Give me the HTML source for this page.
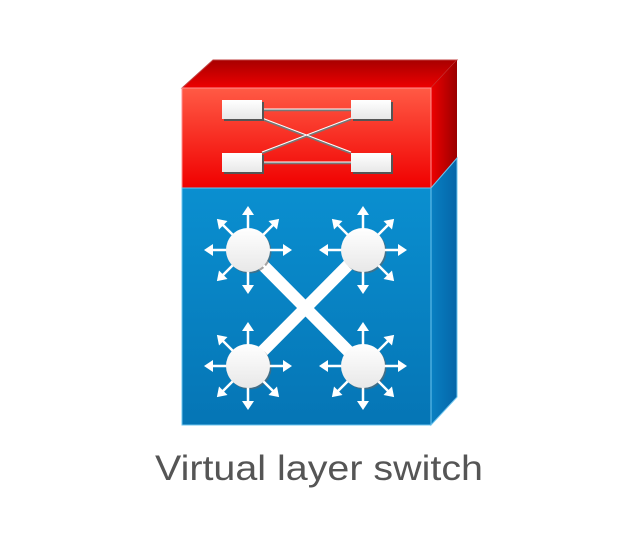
<!DOCTYPE html>
<html><head><style>body{margin:0;background:#fff;width:640px;height:551px;overflow:hidden}</style></head>
<body>
<svg width="640" height="551" viewBox="0 0 640 551" xmlns="http://www.w3.org/2000/svg">
<defs>
<linearGradient id="rf" x1="0" y1="0" x2="0" y2="1"><stop offset="0" stop-color="#ff5a45"/><stop offset="1" stop-color="#f00000"/></linearGradient>
<linearGradient id="rt" x1="0" y1="0" x2="0" y2="1"><stop offset="0" stop-color="#a80000"/><stop offset="1" stop-color="#ee0000"/></linearGradient>
<linearGradient id="rs" x1="0" y1="0" x2="1" y2="0"><stop offset="0" stop-color="#ee0000"/><stop offset="1" stop-color="#9a0000"/></linearGradient>
<linearGradient id="bf" x1="0" y1="0" x2="0" y2="1"><stop offset="0" stop-color="#0a8fd0"/><stop offset="1" stop-color="#0575b5"/></linearGradient>
<linearGradient id="bs" x1="0" y1="0" x2="1" y2="0"><stop offset="0" stop-color="#0880c2"/><stop offset="1" stop-color="#0565a8"/></linearGradient>
<linearGradient id="wb" x1="0" y1="0" x2="0" y2="1"><stop offset="0" stop-color="#fff"/><stop offset="1" stop-color="#e8e8e8"/></linearGradient>
<g id="hub">
<circle r="22" fill="#666" opacity="0.6" transform="translate(1.5,1.5)"/>
<g fill="#fff" stroke="#fff" stroke-width="2.5">
<line x1="0" y1="0" x2="0" y2="-37"/><line x1="0" y1="0" x2="0" y2="37"/><line x1="0" y1="0" x2="-37" y2="0"/><line x1="0" y1="0" x2="37" y2="0"/>
<line x1="0" y1="0" x2="-27" y2="-27"/><line x1="0" y1="0" x2="27" y2="27"/><line x1="0" y1="0" x2="-27" y2="27"/><line x1="0" y1="0" x2="27" y2="-27"/>
</g>
<g fill="#fff">
<polygon points="0,-44 -6,-35 6,-35"/><polygon points="0,44 -6,35 6,35"/><polygon points="-44,0 -35,-6 -35,6"/><polygon points="44,0 35,-6 35,6"/>
<polygon points="0,-44 -6,-35 6,-35" transform="rotate(45)"/><polygon points="0,-44 -6,-35 6,-35" transform="rotate(135)"/><polygon points="0,-44 -6,-35 6,-35" transform="rotate(225)"/><polygon points="0,-44 -6,-35 6,-35" transform="rotate(315)"/>
</g>
<circle r="22" fill="url(#wb)"/>
</g>
</defs>
<polygon points="182,88 213,60 457,60 431,88" fill="url(#rt)" stroke="#c04040" stroke-width="1"/>
<polygon points="431,88 457,60 457,158 431,188" fill="url(#rs)"/>
<polygon points="431,188 457,158 457,397 431,425" fill="url(#bs)" stroke="#6cc4ee" stroke-width="1"/>
<rect x="182" y="88" width="249" height="100" fill="url(#rf)" stroke="#ff9090" stroke-width="1"/>
<rect x="182" y="188" width="249" height="237" fill="url(#bf)" stroke="#6cc4ee" stroke-width="1"/>
<g stroke="#777" stroke-width="2.5"><line x1="262" y1="110" x2="351" y2="110"/><line x1="262" y1="163" x2="351" y2="163"/><line x1="262" y1="119" x2="351" y2="153"/><line x1="262" y1="153" x2="351" y2="119"/></g>
<g stroke="#fff" stroke-width="1"><line x1="262" y1="109" x2="351" y2="109"/><line x1="262" y1="162" x2="351" y2="162"/><line x1="262" y1="118" x2="351" y2="152"/><line x1="262" y1="152" x2="351" y2="118"/></g>
<g fill="#555"><rect x="224" y="102" width="40" height="19"/><rect x="353" y="102" width="40" height="19"/><rect x="224" y="155" width="40" height="19"/><rect x="353" y="155" width="40" height="19"/></g>
<g fill="url(#wb)"><rect x="222" y="100" width="40" height="19"/><rect x="351" y="100" width="40" height="19"/><rect x="222" y="153" width="40" height="19"/><rect x="351" y="153" width="40" height="19"/></g>
<g stroke="#fff" stroke-width="12"><line x1="248" y1="250" x2="363" y2="366"/><line x1="363" y1="250" x2="248" y2="366"/></g>
<use href="#hub" x="248" y="250"/><use href="#hub" x="363" y="250"/><use href="#hub" x="248" y="366"/><use href="#hub" x="363" y="366"/>
<text x="155" y="480" textLength="328" lengthAdjust="spacingAndGlyphs" font-family="Liberation Sans, sans-serif" font-size="35" fill="#555">Virtual layer switch</text>
</svg>
</body></html>
